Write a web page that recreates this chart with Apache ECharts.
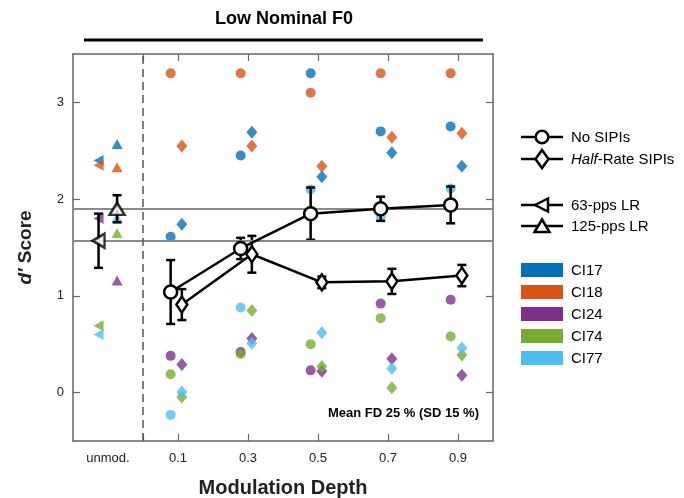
<!DOCTYPE html>
<html>
<head>
<meta charset="utf-8">
<script src="https://cdn.jsdelivr.net/npm/echarts@6/dist/echarts.min.js"></script>
<style>
  html, body { margin: 0; padding: 0; background: #fff; }
  #chart { width: 684px; height: 498px; }
</style>
</head>
<body>
<div id="chart"></div>
<script>
// modulation depths and subjects
const depths = [0.1, 0.3, 0.5, 0.7, 0.9];
const subjects = ['CI17', 'CI18', 'CI24', 'CI74', 'CI77'];
const subjectColors = ['#0072BD', '#D95319', '#7E2F8E', '#77AC30', '#4DBEEE'];

// individual d' scores, one row per subject (CI17, CI18, CI24, CI74, CI77)
const noSipis = [
  [1.61, 2.45, 3.30, 2.70, 2.75],
  [3.30, 3.30, 3.10, 3.30, 3.30],
  [0.38, 0.42, 0.23, 0.92, 0.96],
  [0.19, 0.40, 0.50, 0.77, 0.58],
  [-0.23, 0.88, 2.10, 1.82, 2.11]
];
const halfRate = [
  [1.74, 2.69, 2.23, 2.48, 2.34],
  [2.55, 2.55, 2.34, 2.64, 2.68],
  [0.29, 0.56, 0.22, 0.35, 0.18],
  [-0.045, 0.85, 0.27, 0.05, 0.39],
  [0.006, 0.51, 0.62, 0.25, 0.46]
];
const lr63 = [2.40, 2.35, 1.80, 0.69, 0.60];
const lr125 = [2.57, 2.33, 1.16, 1.65, 1.81];

// group means and error bars
const noSipisMean = [1.04, 1.49, 1.85, 1.90, 1.94];
const noSipisErr = [0.33, 0.11, 0.27, 0.125, 0.19];
const halfRateMean = [0.91, 1.43, 1.14, 1.15, 1.21];
const halfRateErr = [0.16, 0.19, 0.06, 0.13, 0.11];
const lr63Mean = 1.57, lr63Err = 0.28;
const lr125Mean = 1.90, lr125Err = 0.14;
const refLines = [1.90, 1.57];

// axis ticks
const xTicks = [0, 0.1, 0.3, 0.5, 0.7, 0.9];
const xLabelVals = [-0.1, 0.1, 0.3, 0.5, 0.7, 0.9];
const xLabels = ['unmod.', '0.1', '0.3', '0.5', '0.7', '0.9'];
const yTicks = [0, 1, 2, 3];

const X_UNMOD_63 = -0.127, X_UNMOD_125 = -0.074;
const OFF_CIRCLE = -0.021, OFF_DIAMOND = 0.011;
const FONT = 'Liberation Sans, Arial, sans-serif';
const AXIS_COLOR = '#666';

const chart = echarts.init(document.getElementById('chart'));

let series = [];

// individual subjects
subjects.forEach((s, i) => {
  const common = {
    type: 'scatter',
    z: 2,
    silent: true,
    itemStyle: { color: subjectColors[i], opacity: 0.8 }
  };
  series.push(Object.assign({}, common, {
    symbol: 'circle', symbolSize: 10,
    data: depths.map((d, j) => [d + OFF_CIRCLE, noSipis[i][j]])
  }));
  series.push(Object.assign({}, common, {
    symbol: 'diamond', symbolSize: [11, 13],
    data: depths.map((d, j) => [d + OFF_DIAMOND, halfRate[i][j]])
  }));
  series.push(Object.assign({}, common, {
    symbol: 'triangle', symbolSize: [11, 10], symbolRotate: 90,
    data: [[X_UNMOD_63, lr63[i]]]
  }));
  series.push(Object.assign({}, common, {
    symbol: 'triangle', symbolSize: [11, 10],
    data: [[X_UNMOD_125, lr125[i]]]
  }));
});

function errorBars(points) {
  return {
    type: 'custom',
    z: 4,
    silent: true,
    encode: { x: 0, y: 1 },
    data: points,
    renderItem: function (params, api) {
      const x = api.value(0), y = api.value(1), e = api.value(2);
      const top = api.coord([x, y + e]);
      const bot = api.coord([x, y - e]);
      const w = 4.5;
      const st = { stroke: '#000', lineWidth: 2.5 };
      return {
        type: 'group',
        children: [
          { type: 'line', shape: { x1: top[0], y1: top[1], x2: bot[0], y2: bot[1] }, style: st },
          { type: 'line', shape: { x1: top[0] - w, y1: top[1], x2: top[0] + w, y2: top[1] }, style: st },
          { type: 'line', shape: { x1: bot[0] - w, y1: bot[1], x2: bot[0] + w, y2: bot[1] }, style: st }
        ]
      };
    }
  };
}

// reference lines and dashed separator
series.push({
  type: 'line',
  data: [],
  silent: true,
  z: 1,
  markLine: {
    silent: true,
    symbol: ['none', 'none'],
    label: { show: false },
    animation: false,
    data: refLines.map(v => ({ yAxis: v, lineStyle: { color: '#8a8a8a', width: 2, type: 'solid' } }))
      .concat([{ xAxis: 0, lineStyle: { color: '#555', width: 1.5, type: [8, 5] } }])
  }
});

series.push(errorBars(depths.map((d, j) => [d + OFF_CIRCLE, noSipisMean[j], noSipisErr[j]])));
series.push(errorBars(depths.map((d, j) => [d + OFF_DIAMOND, halfRateMean[j], halfRateErr[j]])));
series.push(errorBars([[X_UNMOD_63, lr63Mean, lr63Err], [X_UNMOD_125, lr125Mean, lr125Err]]));

const meanStyle = { color: '#fff', borderColor: '#000', borderWidth: 2.5 };
series.push({
  name: 'No SIPIs', type: 'line', z: 5, silent: true,
  symbol: 'circle', symbolSize: 13, showAllSymbol: true,
  lineStyle: { color: '#000', width: 2.5 },
  itemStyle: meanStyle,
  data: depths.map((d, j) => [d + OFF_CIRCLE, noSipisMean[j]])
});
series.push({
  name: 'Half-Rate SIPIs', type: 'line', z: 5, silent: true,
  symbol: 'diamond', symbolSize: [11, 16], showAllSymbol: true,
  lineStyle: { color: '#000', width: 2.5 },
  itemStyle: meanStyle,
  data: depths.map((d, j) => [d + OFF_DIAMOND, halfRateMean[j]])
});
series.push({
  name: '63-pps LR', type: 'scatter', z: 5, silent: true,
  symbol: 'triangle', symbolSize: [14, 12], symbolRotate: 90,
  itemStyle: meanStyle,
  data: [[X_UNMOD_63, lr63Mean]]
});
series.push({
  name: '125-pps LR', type: 'scatter', z: 5, silent: true,
  symbol: 'triangle', symbolSize: [15, 12],
  itemStyle: meanStyle,
  data: [[X_UNMOD_125, lr125Mean]]
});

// legend drawn as graphic
const LX1 = 521, LX2 = 563, LXM = 542, LTX = 571;
const legendGraphic = [];
function legendLine(y, shape, label, rich) {
  legendGraphic.push({ type: 'line', shape: { x1: LX1, y1: y, x2: LX2, y2: y }, style: { stroke: '#000', lineWidth: 2.5 } });
  legendGraphic.push(Object.assign({ style: { fill: '#fff', stroke: '#000', lineWidth: 2.5 } }, shape));
  legendGraphic.push({ type: 'text', x: LTX, y: y + 1, style: Object.assign({ text: label, font: '15px ' + FONT, fill: '#000', verticalAlign: 'middle' }, rich || {}) });
}
legendLine(137, { type: 'circle', shape: { cx: LXM, cy: 137, r: 6.3 } }, 'No SIPIs');
legendLine(159, { type: 'polygon', shape: { points: [[LXM, 150], [LXM + 6.5, 159], [LXM, 168], [LXM - 6.5, 159]] } },
  '{i|Half}-Rate SIPIs', { rich: { i: { fontStyle: 'italic', fontSize: 15, fontFamily: FONT } } });
legendLine(205, { type: 'polygon', shape: { points: [[LXM - 7, 205], [LXM + 6, 198.5], [LXM + 6, 211.5]] } }, '63-pps LR');
legendLine(226, { type: 'polygon', shape: { points: [[LXM, 219.5], [LXM + 7.5, 232], [LXM - 7.5, 232]] } }, '125-pps LR');
subjects.forEach((s, i) => {
  const y = 270 + i * 22;
  legendGraphic.push({ type: 'rect', shape: { x: LX1, y: y - 7, width: LX2 - LX1, height: 14 }, style: { fill: subjectColors[i] } });
  legendGraphic.push({ type: 'text', x: LTX, y: y + 1, style: { text: s, font: '15px ' + FONT, fill: '#000', verticalAlign: 'middle' } });
});

const axisLineStyle = { show: true, onZero: false, lineStyle: { color: AXIS_COLOR, width: 1.5 } };

const option = {
  animation: false,
  grid: { left: 73, right: 191, top: 54, bottom: 57, containLabel: false, outerBoundsMode: 'none' },
  xAxis: [
    {
      type: 'value', min: -0.2, max: 1.0, position: 'bottom',
      name: 'Modulation Depth', nameLocation: 'middle', nameGap: 37,
      nameTextStyle: { fontFamily: FONT, fontSize: 20, fontWeight: 'bold', color: '#222' },
      axisLine: axisLineStyle,
      axisTick: { show: true, inside: true, length: 7, customValues: xTicks, lineStyle: { color: AXIS_COLOR, width: 1.2 } },
      axisLabel: {
        customValues: xLabelVals, margin: 11, color: '#222', fontFamily: FONT, fontSize: 13,
        formatter: v => xLabels[xLabelVals.findIndex(t => Math.abs(t - v) < 1e-6)]
      },
      splitLine: { show: false }
    },
    {
      type: 'value', min: -0.2, max: 1.0, position: 'top',
      axisLine: axisLineStyle,
      axisTick: { show: true, inside: true, length: 7, customValues: xTicks, lineStyle: { color: AXIS_COLOR, width: 1.2 } },
      axisLabel: { show: false },
      splitLine: { show: false }
    }
  ],
  yAxis: [
    {
      type: 'value', min: -0.5, max: 3.5, position: 'left',
      name: '{i|d′} Score', nameLocation: 'middle', nameGap: 38, nameRotate: 90,
      nameTextStyle: {
        fontFamily: FONT, fontSize: 19, fontWeight: 'bold', color: '#222',
        rich: { i: { fontStyle: 'italic', fontWeight: 'bold', fontSize: 19, fontFamily: FONT, color: '#222' } }
      },
      axisLine: axisLineStyle,
      axisTick: { show: true, inside: true, length: 7, customValues: yTicks, lineStyle: { color: AXIS_COLOR, width: 1.2 } },
      axisLabel: { customValues: yTicks, margin: 9, color: '#222', fontFamily: FONT, fontSize: 13 },
      splitLine: { show: false }
    },
    {
      type: 'value', min: -0.5, max: 3.5, position: 'right',
      axisLine: axisLineStyle,
      axisTick: { show: true, inside: true, length: 7, customValues: yTicks, lineStyle: { color: AXIS_COLOR, width: 1.2 } },
      axisLabel: { show: false },
      splitLine: { show: false }
    }
  ],
  graphic: [
    { type: 'text', x: 284, y: 19, style: { text: 'Low Nominal F0', font: 'bold 18px ' + FONT, fill: '#000', align: 'center', verticalAlign: 'middle' } },
    { type: 'line', shape: { x1: 84, y1: 40, x2: 483, y2: 40 }, style: { stroke: '#000', lineWidth: 3 } },
    { type: 'text', x: 479, y: 413, style: { text: 'Mean FD 25 % (SD 15 %)', font: 'bold 13px ' + FONT, fill: '#000', align: 'right', verticalAlign: 'middle' } }
  ].concat(legendGraphic),
  series: series
};

chart.setOption(option);
</script>
</body>
</html>
